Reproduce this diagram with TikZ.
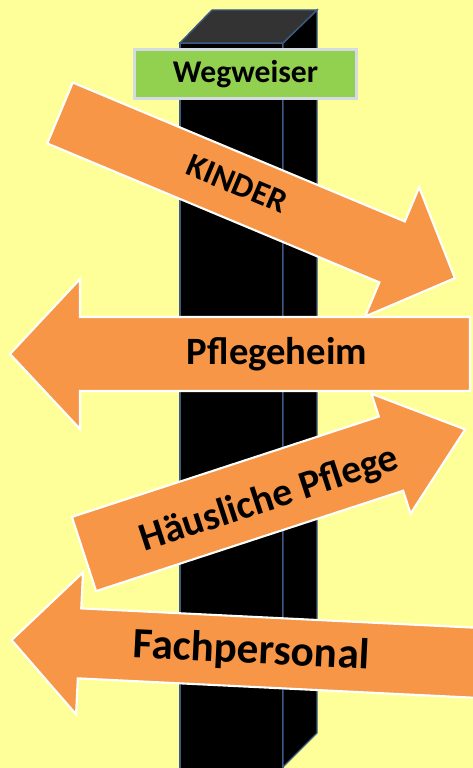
\documentclass[tikz,border=0pt]{standalone}
\usepackage{fontspec}
\setmainfont{Carlito}
\definecolor{yex}{HTML}{FFFF99}
\definecolor{orx}{HTML}{F79646}
\definecolor{grx}{HTML}{92D050}
\definecolor{blx}{HTML}{3B5A85}
\definecolor{gax}{HTML}{D5DBE3}
\colorlet{tox}{black!80}
\tikzset{
    sign/.style={fill=orx,draw=white,line width=1.2pt,line join=miter},
    signtext/.style={inner sep=0pt,text=black},
    face/.style={draw=blx,line width=0.8pt}
}
% arrow outline: length, half shaft, head length, half head
\newcommand{\signshape}[4]{%
    \filldraw[sign] (0,-#2) -- ({#1-#3},-#2) -- ({#1-#3},-#4) -- (#1,0)
        -- ({#1-#3},#4) -- ({#1-#3},#2) -- (0,#2) -- cycle;}

\begin{document}
\begin{tikzpicture}[x=0.02cm,y=0.02cm]
    \useasboundingbox (0,0) rectangle (473,768);
    \clip (0,0) rectangle (473,768);
    \fill [yex] (0,0) rectangle (473,768);
    % post
    \filldraw [face,fill=black] (180,-5) rectangle (283,725);
    \filldraw [face,fill=black] (283,1) -- (283,725) -- (317,758) -- (317,35) -- cycle;
    \filldraw [face,fill=tox] (180,725) -- (283,725) -- (317,758) -- (212,758) -- cycle;
    \node [draw=gax,line width=1.7pt,fill=grx,minimum width=4.44cm,minimum height=0.98cm,
        font=\fontsize{18}{18}\selectfont\bfseries] (wegweiser) at (245.5,694) {Wegweiser};
    % signs
    \begin{scope}[shift={(60,655)},rotate=-22.7]
        \signshape{428}{33}{68}{70}
        \node [signtext,rotate=-22.7,font=\fontsize{19}{19}\selectfont\bfseries]
            (kinder) at (191,3) {KINDER};
    \end{scope}
    \begin{scope}[shift={(501,104)},rotate=177.2]
        \signshape{490}{35}{68}{71}
        \node [signtext,rotate=-2.8,font=\fontsize{24.6}{24.6}\selectfont\bfseries]
            (fach) at (250,0) {Fachpersonal};
    \end{scope}
    \begin{scope}[shift={(84,214)},rotate=18.1]
        \signshape{401}{39}{78}{63}
        \node [signtext,rotate=18.1,font=\fontsize{22.6}{22.6}\selectfont\bfseries]
            (haus) at (193,-6) {Häusliche Pflege};
    \end{scope}
    \begin{scope}[shift={(470,414)},rotate=180]
        \signshape{460}{37}{70}{75}
        \node [signtext,font=\fontsize{22}{22}\selectfont\bfseries]
            (heim) at (193,0) {Pflegeheim};
    \end{scope}
\end{tikzpicture}
\end{document}
